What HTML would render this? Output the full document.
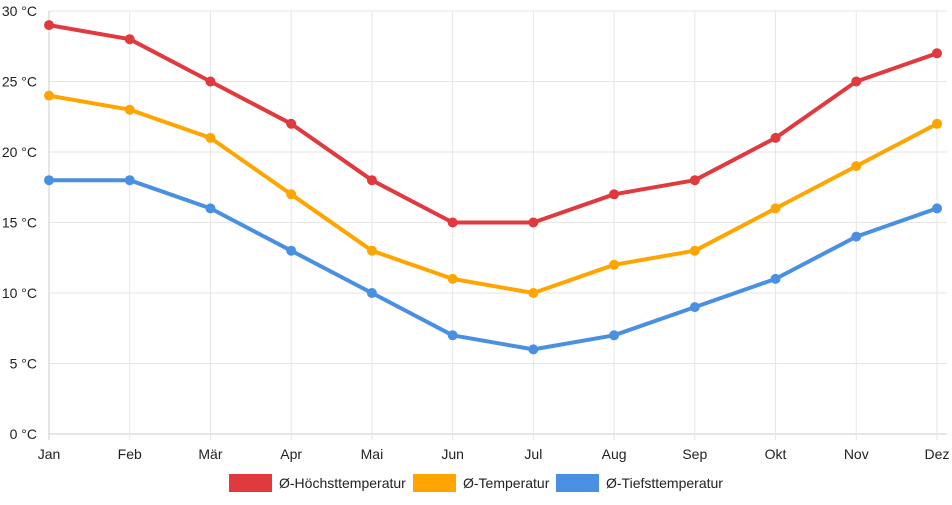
<!DOCTYPE html>
<html><head><meta charset="utf-8">
<style>
html,body{margin:0;padding:0;background:#fff;}
body{width:952px;height:500px;overflow:hidden;font-family:"Liberation Sans",sans-serif;}
svg text{font-family:"Liberation Sans",sans-serif;font-size:14px;fill:#222;}
</style></head>
<body>
<svg id="chart" width="952" height="500" xmlns="http://www.w3.org/2000/svg">
<g id="grid"></g>
<g id="axes"></g>
<g id="series"></g>
<g id="legend"></g>
</svg>
<script>
const months = ["Jan","Feb","Mär","Apr","Mai","Jun","Jul","Aug","Sep","Okt","Nov","Dez"];
const highTemps = [29,28,25,22,18,15,15,17,18,21,25,27];
const avgTemps = [24,23,21,17,13,11,10,12,13,16,19,22];
const lowTemps = [18,18,16,13,10,7,6,7,9,11,14,16];
const yTicks = [0,5,10,15,20,25,30];
const seriesNames = ["Ø-Höchsttemperatur","Ø-Temperatur","Ø-Tiefsttemperatur"];
const seriesColors = ["#e0393e","#ffa500","#4a90e2"];

const NS="http://www.w3.org/2000/svg";
const x0=49,x1=937,yTop=11,yBot=434,yMax=30;
const xs=i=>x0+(x1-x0)*i/(months.length-1);
const ys=v=>yBot-(yBot-yTop)*v/yMax;
function mk(tag,attrs,parent){const e=document.createElementNS(NS,tag);for(const k in attrs)e.setAttribute(k,attrs[k]);parent.appendChild(e);return e;}
const grid=document.getElementById('grid'),axes=document.getElementById('axes'),ser=document.getElementById('series'),leg=document.getElementById('legend');

yTicks.forEach(t=>{
  const l=mk('line',{x1:x0,x2:x1+10,y1:ys(t),y2:ys(t),stroke:t===0?'#ccc':'#e6e6e6','stroke-width':1},grid);
  
  
  const tx=mk('text',{x:37,y:ys(t)+5,'text-anchor':'end'},axes);
  tx.textContent=t+" °C";
  
  
});
months.forEach((m,i)=>{
  const l=mk('line',{x1:xs(i),x2:xs(i),y1:yTop,y2:yBot+6,stroke:i===0?'#ccc':'#e6e6e6','stroke-width':1},grid);
  
  
  const tx=mk('text',{x:xs(i),y:459,'text-anchor':'middle'},axes);
  tx.textContent=m;
  
  
});
[highTemps,avgTemps,lowTemps].forEach((data,s)=>{
  const g=mk('g',{},ser);
  
  
  const p=mk('polyline',{points:data.map((v,i)=>xs(i)+","+ys(v)).join(" "),fill:'none',stroke:seriesColors[s],'stroke-width':4,'stroke-linejoin':'round'},g);
  
  
  data.forEach((v,i)=>{
    const c=mk('circle',{cx:xs(i),cy:ys(v),r:5,fill:seriesColors[s]},g);
    
    
  });
});
const legX=[229,413,556];
seriesNames.forEach((n,s)=>{
  const g=mk('g',{},leg);
  
  
  mk('rect',{x:legX[s],y:474,width:43,height:18,fill:seriesColors[s]},g);
  const t=mk('text',{x:legX[s]+50,y:488},g);
  t.textContent=n;
});
</script>
</body></html>
